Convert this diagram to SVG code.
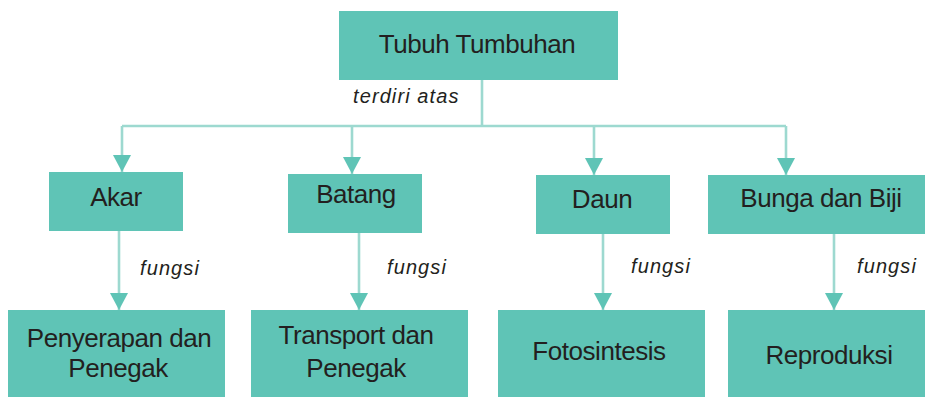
<svg xmlns="http://www.w3.org/2000/svg" width="925" height="397" viewBox="0 0 925 397">
<style>
.box{fill:#5fc4b6;}
.t{font-family:"Liberation Sans",Arial,sans-serif;font-size:26px;letter-spacing:-0.45px;fill:#231f20;text-anchor:middle;}
.lbl{font-family:"Liberation Sans",Arial,sans-serif;font-size:20px;font-style:italic;fill:#231f20;letter-spacing:1.1px;}
.c{fill:none;stroke:#9dd9d0;stroke-width:2.6;marker-end:url(#ah);}
.cn{fill:none;stroke:#9dd9d0;stroke-width:2.6;}
</style>
<defs>
<marker id="ah" viewBox="0 0 17 18" refX="17" refY="9" markerWidth="17" markerHeight="18" markerUnits="userSpaceOnUse" orient="auto">
<path d="M0,0 L17,9 L0,18 z" fill="#5fc4b6"/>
</marker>
</defs>
<rect width="925" height="397" fill="#ffffff"/>
<g id="connectors">
<path class="cn" d="M482 80 V126"/>
<path class="c" d="M122 126 V172"/>
<path class="cn" d="M122 126 H786"/>
<path class="c" d="M352 126 V174"/>
<path class="c" d="M594 126 V175"/>
<path class="c" d="M786 126 V175"/>
<path class="c" d="M119 231 V310"/>
<path class="c" d="M359 233 V310"/>
<path class="c" d="M603 234 V310"/>
<path class="c" d="M834 234 V310"/>
<text class="lbl" x="353" y="103">terdiri atas</text>
<text class="lbl" x="140" y="275">fungsi</text>
<text class="lbl" x="387" y="274">fungsi</text>
<text class="lbl" x="631" y="273">fungsi</text>
<text class="lbl" x="857" y="273">fungsi</text>
</g>
<g id="tubuh">
<rect class="box" x="339" y="11" width="279" height="69"/>
<text class="t" x="477" y="53">Tubuh Tumbuhan</text>
</g>
<g id="akar">
<rect class="box" x="49" y="172" width="134" height="59"/>
<text class="t" x="116" y="206">Akar</text>
</g>
<g id="batang">
<rect class="box" x="288" y="174" width="134" height="59"/>
<text class="t" x="356" y="203">Batang</text>
</g>
<g id="daun">
<rect class="box" x="536" y="175" width="134" height="59"/>
<text class="t" x="602" y="208">Daun</text>
</g>
<g id="bunga">
<rect class="box" x="708" y="175" width="217" height="59"/>
<text class="t" x="821" y="207">Bunga dan Biji</text>
</g>
<g id="penyerapan">
<rect class="box" x="8" y="310" width="217" height="87"/>
<text class="t" x="119" y="347">Penyerapan dan</text>
<text class="t" x="118" y="377">Penegak</text>
</g>
<g id="transport">
<rect class="box" x="251" y="310" width="217" height="87"/>
<text class="t" x="356" y="344">Transport dan</text>
<text class="t" x="356" y="377">Penegak</text>
</g>
<g id="fotosintesis">
<rect class="box" x="498" y="310" width="207" height="87"/>
<text class="t" x="599" y="360">Fotosintesis</text>
</g>
<g id="reproduksi">
<rect class="box" x="728" y="310" width="197" height="87"/>
<text class="t" x="829" y="364">Reproduksi</text>
</g>
</svg>
